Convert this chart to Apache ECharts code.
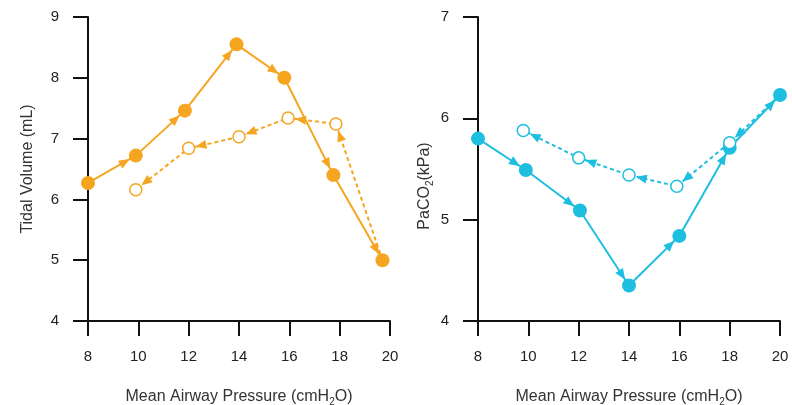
<!DOCTYPE html>
<html><head><meta charset="utf-8">
<script src="https://cdn.jsdelivr.net/npm/echarts@6/dist/echarts.min.js"></script>
<style>html,body{margin:0;padding:0;background:#fff}#c{width:792px;height:405px}</style>
</head><body><div id="c"></div>
<script>
// Left panel: Tidal Volume (mL)
var tvFilledX = [8, 9.9, 11.85, 13.9, 15.8, 17.75, 19.7];
var tvFilledY = [6.27, 6.72, 7.46, 8.55, 8.0, 6.40, 5.0];
var tvOpenX = [17.85, 15.95, 14.0, 12.0, 9.9];
var tvOpenY = [7.24, 7.34, 7.03, 6.84, 6.16];
// Right panel: PaCO2 (kPa)
var pcFilledX = [8, 9.9, 12.05, 14.0, 16.0, 18.0, 20.0];
var pcFilledY = [5.80, 5.49, 5.09, 4.35, 4.84, 5.71, 6.23];
var pcOpenX = [18.0, 15.9, 14.0, 12.0, 9.8];
var pcOpenY = [5.76, 5.33, 5.44, 5.61, 5.88];
var xTicks = {min: 8, max: 20, interval: 2};
var tvTicks = {min: 4, max: 9, interval: 1};
var pcTicks = {min: 4, max: 7, interval: 1};

var ORANGE = '#F6A521', CYAN = '#1EBEE0';
var FONT = 'Liberation Sans';

function pts(xs, ys) { return xs.map(function (x, i) { return [x, ys[i]]; }); }
function segs(points, rTarget) {
  var out = [];
  for (var i = 0; i < points.length - 1; i++) {
    out.push([points[i][0], points[i][1], points[i + 1][0], points[i + 1][1], rTarget]);
  }
  return out;
}

function arrowRender(color) {
  return function (params, api) {
    var p0 = api.coord([api.value(0), api.value(1)]);
    var p1 = api.coord([api.value(2), api.value(3)]);
    var r = api.value(4);
    var dx = p1[0] - p0[0], dy = p1[1] - p0[1];
    var len = Math.sqrt(dx * dx + dy * dy);
    var ux = dx / len, uy = dy / len, nx = -uy, ny = ux;
    var L = 11, W = 4.5;
    var tx = p1[0] - ux * r, ty = p1[1] - uy * r;
    var bx = tx - ux * L, by = ty - uy * L;
    return {
      type: 'polygon',
      shape: {points: [[tx, ty], [bx + nx * W, by + ny * W], [bx - nx * W, by - ny * W]]},
      style: {fill: color}
    };
  };
}

function panel(idx, fx, fy, ox, oy, color) {
  var filled = pts(fx, fy);
  var open = pts(ox, oy);
  var dashedPath = [filled[filled.length - 1]].concat(open);
  return [
    {type: 'line', xAxisIndex: idx, yAxisIndex: idx, data: filled, showSymbol: false, symbol: 'none',
      lineStyle: {color: color, width: 2}, z: 2, silent: true, animation: false},
    {type: 'line', xAxisIndex: idx, yAxisIndex: idx, data: dashedPath, showSymbol: false, symbol: 'none',
      lineStyle: {color: color, width: 2, type: [4, 3]}, z: 2, silent: true, animation: false},
    {type: 'custom', xAxisIndex: idx, yAxisIndex: idx, data: segs(filled, 7), renderItem: arrowRender(color), z: 3, animation: false, silent: true},
    {type: 'custom', xAxisIndex: idx, yAxisIndex: idx, data: segs(dashedPath, 7), renderItem: arrowRender(color), z: 3, animation: false, silent: true},
    {type: 'scatter', xAxisIndex: idx, yAxisIndex: idx, data: filled, symbol: 'circle', symbolSize: 14,
      itemStyle: {color: color, opacity: 1}, z: 5, animation: false, silent: true},
    {type: 'scatter', xAxisIndex: idx, yAxisIndex: idx, data: open, symbol: 'circle', symbolSize: 12,
      itemStyle: {color: '#fff', borderColor: color, borderWidth: 1.5, opacity: 1}, z: 5, animation: false, silent: true}
  ];
}

var nameRich = {
  n: {fontFamily: FONT, fontSize: 16, color: '#333', lineHeight: 20},
  s: {fontFamily: FONT, fontSize: 10, color: '#333', lineHeight: 11, verticalAlign: 'bottom'}
};

function xAxis(idx) {
  return {
    type: 'value', gridIndex: idx, min: xTicks.min, max: xTicks.max, interval: xTicks.interval,
    name: '{n|Mean Airway Pressure (cmH}{s|2}{n|O)}', nameLocation: 'middle', nameGap: 66,
    nameTextStyle: {rich: nameRich},
    axisLine: {show: true, lineStyle: {color: '#111', width: 2}},
    axisTick: {show: true, length: 15, lineStyle: {color: '#111', width: 2}},
    axisLabel: {margin: 28, fontFamily: FONT, fontSize: 15, color: '#222'},
    splitLine: {show: false}
  };
}
function yAxis(idx, t, nameStr, gap, pad) {
  return {
    type: 'value', gridIndex: idx, min: t.min, max: t.max, interval: t.interval,
    name: nameStr, nameLocation: 'middle', nameGap: gap,
    nameTextStyle: {rich: nameRich, padding: pad},
    axisLine: {show: true, lineStyle: {color: '#111', width: 2}},
    axisTick: {show: true, length: 15, lineStyle: {color: '#111', width: 2}},
    axisLabel: {margin: 29, fontFamily: FONT, fontSize: 15, color: '#222'},
    splitLine: {show: false}
  };
}

var chart = echarts.init(document.getElementById('c'), null, {renderer: 'canvas'});
chart.setOption({
  backgroundColor: '#fff',
  animation: false,
  grid: [
    {left: 88, top: 17, width: 302, height: 304, containLabel: false, outerBoundsMode: 'none'},
    {left: 478, top: 17, width: 302, height: 304, containLabel: false, outerBoundsMode: 'none'}
  ],
  xAxis: [xAxis(0), xAxis(1)],
  yAxis: [
    yAxis(0, tvTicks, '{n|Tidal Volume (mL)}', 50, [0, 0, 0, 0]),
    yAxis(1, pcTicks, '{n|PaCO}{s|2}{n|(kPa)}', 43, [0, 34, 0, 0])
  ],
  series: panel(0, tvFilledX, tvFilledY, tvOpenX, tvOpenY, ORANGE)
    .concat(panel(1, pcFilledX, pcFilledY, pcOpenX, pcOpenY, CYAN))
});
</script></body></html>
